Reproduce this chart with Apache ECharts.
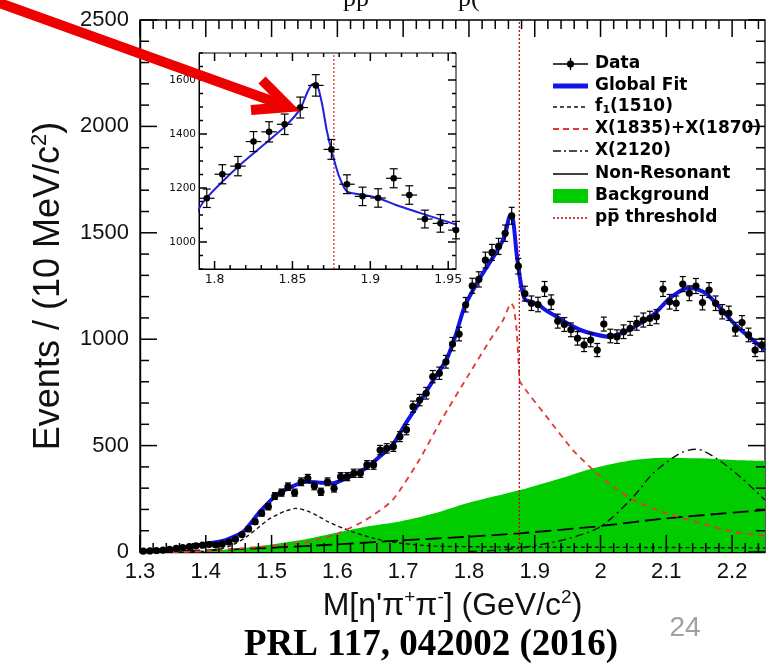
<!DOCTYPE html>
<html><head><meta charset="utf-8">
<script src="https://cdn.jsdelivr.net/npm/echarts@6/dist/echarts.min.js"></script>
<style>html,body{margin:0;padding:0;background:#fff}#c{width:779px;height:666px}</style>
</head><body><div id="c"></div>
<script>
// ---- histogram definition (10 MeV bins starting at 1.30 GeV) ----
const binLow = 1.30, binWidth = 0.01;
// events per bin
const events = [4,5,7,9,13,17,21,25,29,32,
  35,33,38,47,60,82,108,142,182,213,
  263,279,307,279,330,346,310,283,330,299,
  354,354,370,370,409,409,479,487,495,542,
  575,683,714,746,824,840,894,977,1024,1162,
  1251,1281,1372,1408,1436,1498,1580,1343,1214,1169,
  1163,1236,1174,1085,1069,1044,1004,973,996,949,
  1071,1015,1012,1035,1051,1075,1090,1098,1106,1236,
  1176,1169,1259,1216,1250,1172,1231,1169,1129,1122,
  1047,1078,1020,949,973];

// fit components [mass GeV, events]
const globalFit = [[1.30,2],[1.35,14],[1.39,33],[1.43,56],[1.457,95],[1.482,189],[1.508,268],[1.533,310],[1.553,330],[1.573,326],[1.593,323],[1.623,362],[1.643,393],[1.664,448],[1.684,503],[1.704,605],[1.724,699],[1.746,808],[1.766,905],[1.78,1020],[1.793,1150],[1.815,1279],[1.835,1377],[1.846,1432],[1.855,1493],[1.86,1560],[1.863,1585],[1.866,1579],[1.869,1512],[1.872,1414],[1.8756,1328],[1.88,1242],[1.885,1187],[1.895,1175],[1.905,1163],[1.916,1138],[1.935,1102],[1.955,1065],[1.977,1035],[2.013,1012],[2.043,1043],[2.08,1114],[2.105,1192],[2.13,1239],[2.14,1240],[2.16,1216],[2.18,1153],[2.205,1067],[2.25,949]];
const f1Curve = [[1.38,0],[1.40,5],[1.42,14],[1.44,32],[1.462,72],[1.48,115],[1.494,150],[1.51,178],[1.521,192],[1.537,205],[1.555,192],[1.57,170],[1.586,142],[1.616,103],[1.656,64],[1.697,41],[1.748,28],[1.80,25],[1.90,23],[2.00,22],[2.10,21],[2.25,19]];
const x1835Curve = [[1.35,0],[1.40,4],[1.462,19],[1.545,42],[1.595,80],[1.643,150],[1.684,244],[1.724,430],[1.758,620],[1.799,830],[1.832,996],[1.852,1090],[1.864,1169],[1.868,1150],[1.8725,1043],[1.8765,830],[1.8775,800],[1.918,636],[1.958,479],[1.989,385],[2.019,307],[2.05,244],[2.10,182],[2.151,135],[2.202,95],[2.25,75]];
const x2120Curve = [[1.80,3],[1.85,10],[1.90,30],[1.95,62],[2.00,119],[2.05,260],[2.08,370],[2.121,464],[2.146,483],[2.176,440],[2.212,354],[2.25,244]];
const nonResonant = [[1.30,0],[1.40,8],[1.50,20],[1.60,36],[1.70,55],[1.80,72],[1.8775,88],[2.00,122],[2.10,158],[2.25,197]];
const background = [[1.35,0],[1.40,5],[1.462,20],[1.545,56],[1.595,88],[1.643,119],[1.697,145],[1.748,182],[1.797,229],[1.8775,291],[1.948,354],[1.989,393],[2.05,432],[2.10,443],[2.151,440],[2.201,432],[2.25,428]];
const thresholdMass = 1.8766;

// axis ranges and tick values
const mainX = [1.30, 2.25], mainY = [0, 2500];
const insetX = [1.79, 1.955], insetY = [900, 1700];
const insetMajorX = [1.80, 1.85, 1.90, 1.95];
const insetMajorY = [1000, 1200, 1400, 1600];
const legendLabels = ['Data', 'Global Fit', '{b|f}{s|1}{b|(1510)}', 'X(1835)+X(1870)', 'X(2120)', 'Non-Resonant', 'Background', 'pp\u0305 threshold'];

// tick marks: [value, length in px]
function tickList(from, step, count, majorEvery, majorLen, minorLen, decimals) {
  const out = [];
  for (let k = 0; k <= count; k++) out.push([+(from + step * k).toFixed(decimals), k % majorEvery === 0 ? majorLen : minorLen]);
  return out;
}
const mainTicksX = tickList(1.30, 0.02, 47, 5, 17, 9, 2);
const mainTicksY = tickList(0, 100, 25, 5, 17, 9, 0);
const insetTicksX = tickList(1.80, 0.01, 15, 5, 8, 4, 2);
const insetTicksY = tickList(900, 50, 16, 4, 4, 4, 0).map(t => [t[0], insetMajorY.includes(t[0]) ? 8 : 4]);

// data points with Poisson errors
const dataPts = events.map((v, i) => [+(binLow + (i + 0.5) * binWidth).toFixed(3), v, Math.sqrt(v)]);
const insetPts = dataPts.filter(p => p[0] > insetX[0] && p[0] < 1.96);

function errRender(xmin, xmax, capHalf, radius, lw) {
  return (params, api) => {
    const x = api.value(0), v = api.value(1), e = api.value(2);
    const c = api.coord([x, v]);
    const t = api.coord([x, v + e]);
    const b = api.coord([x, v - e]);
    const l = api.coord([Math.max(x - binWidth / 2, xmin), v]);
    const r = api.coord([Math.min(x + binWidth / 2, xmax), v]);
    const st = {stroke: '#000', lineWidth: lw, fill: null};
    return {type: 'group', children: [
      {type: 'line', shape: {x1: c[0], y1: t[1], x2: c[0], y2: b[1]}, style: st},
      {type: 'line', shape: {x1: c[0] - capHalf, y1: t[1], x2: c[0] + capHalf, y2: t[1]}, style: st},
      {type: 'line', shape: {x1: c[0] - capHalf, y1: b[1], x2: c[0] + capHalf, y2: b[1]}, style: st},
      {type: 'line', shape: {x1: l[0], y1: c[1], x2: r[0], y2: c[1]}, style: st},
      {type: 'circle', shape: {cx: c[0], cy: c[1], r: radius}, style: {fill: '#000'}}
    ]};
  };
}

const sans = 'Liberation Sans';
function mkAxis(o) {
  const a = {
    type: 'value', gridIndex: o.grid, position: o.pos, min: o.min, max: o.max,
    axisLine: {show: true, onZero: false, lineStyle: {color: '#000', width: o.line}},
    axisTick: {show: false},
    axisLabel: Object.assign({show: true}, o.label),
    splitLine: {show: false}, minorTick: {show: false}, minorSplitLine: {show: false}
  };
  if (o.interval) a.interval = o.interval;
  if (o.custom) a.axisLabel.customValues = o.custom;
  if (o.name) Object.assign(a, o.name);
  return a;
}
const mainXLabel = {fontSize: 22, color: '#111', fontFamily: sans, margin: 9,
  formatter: v => (v > 2.21 ? '' : String(+v.toFixed(2)))};
const mainYLabel = {fontSize: 22, color: '#111', fontFamily: sans, margin: 11, formatter: v => String(v)};
const insetXLabel = {fontSize: 12.5, color: '#111', fontFamily: 'DejaVu Sans', margin: 4, formatter: v => String(+v.toFixed(2))};
const insetYLabel = {fontSize: 10.5, color: '#111', fontFamily: 'DejaVu Sans', margin: 3, formatter: v => String(v)};
const xName = {
  name: "M[η'π{s|+}π{s|-}] (GeV/c{s|2})", nameLocation: 'middle', nameGap: 34,
  nameTextStyle: {fontSize: 32, fontFamily: sans, color: '#111', lineHeight: 36,
    rich: {s: {fontSize: 19, fontFamily: sans, color: '#111', lineHeight: 20, verticalAlign: 'top'}}}
};
const yName = {
  name: 'Events / (10 MeV/c{s|2})', nameLocation: 'middle', nameGap: 70,
  nameTextStyle: {fontSize: 36, fontFamily: sans, color: '#111', lineHeight: 40,
    rich: {s: {fontSize: 22, fontFamily: sans, color: '#111', lineHeight: 22, verticalAlign: 'top'}}}
};

const xAxes = [
  mkAxis({grid: 0, pos: 'bottom', min: mainX[0], max: mainX[1], interval: 0.1, line: 1.4, label: mainXLabel, name: xName}),
  mkAxis({grid: 1, pos: 'bottom', min: insetX[0], max: insetX[1], custom: insetMajorX, line: 1, label: insetXLabel})
];
const yAxes = [
  mkAxis({grid: 0, pos: 'left', min: mainY[0], max: mainY[1], interval: 500, line: 1.4, label: mainYLabel, name: yName}),
  mkAxis({grid: 1, pos: 'left', min: insetY[0], max: insetY[1], custom: insetMajorY, line: 1, label: insetYLabel})
];

function curve(name, data, ls, extra) {
  return Object.assign({type: 'line', name, data, xAxisIndex: 0, yAxisIndex: 0, symbol: 'none',
    smooth: 0.3, lineStyle: ls, emphasis: {disabled: true}, silent: true}, extra || {});
}
const series = [
  curve('Background', background, {width: 0}, {areaStyle: {color: '#00cc00', opacity: 1}}),
  curve('Non-Resonant', nonResonant, {color: '#000', width: 1.8, type: [16, 6]}),
  curve('f1(1510)', f1Curve, {color: '#111', width: 1.4, type: [4, 3]}),
  curve('X(2120)', x2120Curve, {color: '#111', width: 1.4, type: [8, 4, 2, 4]}),
  curve('X(1835)+X(1870)', x1835Curve, {color: '#e03a32', width: 1.8, type: [6, 5]}, {smooth: 0.2}),
  curve('threshold', [[thresholdMass, mainY[0]], [thresholdMass, mainY[1]]], {color: '#cc0000', width: 1.2, type: [2, 2]}, {smooth: false}),
  curve('Global Fit', globalFit, {color: '#1414e6', width: 4}, {smooth: 0.2}),
  {type: 'custom', name: 'Data', data: dataPts, xAxisIndex: 0, yAxisIndex: 0, silent: true,
    renderItem: errRender(mainX[0], mainX[1], 3, 3.6, 1.2), z: 5},
  // inset
  curve('inset threshold', [[thresholdMass, insetY[0]], [thresholdMass, insetY[1]]], {color: '#cc0000', width: 1, type: [2, 2]}, {xAxisIndex: 1, yAxisIndex: 1, smooth: false}),
  curve('inset fit', globalFit, {color: '#2020e0', width: 2}, {xAxisIndex: 1, yAxisIndex: 1, smooth: 0.2}),
  {type: 'custom', name: 'inset data', data: insetPts, xAxisIndex: 1, yAxisIndex: 1, silent: true, clip: false,
    renderItem: errRender(insetX[0], insetX[1], 4, 3.3, 1.2), z: 5}
];

// legend drawn with graphic elements
const lgY = [64, 86, 107, 129, 151, 174, 196, 218];
const lx1 = 553, lx2 = 588, ltx = 595;
const lgFont = {fontFamily: 'DejaVu Sans', fontWeight: 'bold', fontSize: 17};
const graphics = [];
legendLabels.forEach((t, i) => {
  graphics.push({type: 'text', x: ltx, y: lgY[i], z: 50, style: Object.assign({
    text: t, fill: '#000', verticalAlign: 'middle', align: 'left',
    rich: {b: Object.assign({fill: '#000'}, lgFont), s: {fontFamily: 'DejaVu Sans', fontWeight: 'bold', fontSize: 11, verticalAlign: 'bottom', lineHeight: 12, padding: [8, 0, 0, 0]}}
  }, lgFont)});
});
function lgLine(i, stroke, w, dash) {
  graphics.push({type: 'line', z: 50, shape: {x1: lx1, y1: lgY[i], x2: lx2, y2: lgY[i]},
    style: {stroke, lineWidth: w, lineDash: dash || null}});
}
lgLine(0, '#000', 1.3);
graphics.push({type: 'line', z: 50, shape: {x1: (lx1 + lx2) / 2, y1: lgY[0] - 6, x2: (lx1 + lx2) / 2, y2: lgY[0] + 6}, style: {stroke: '#000', lineWidth: 1.3}});
graphics.push({type: 'circle', z: 50, shape: {cx: (lx1 + lx2) / 2, cy: lgY[0], r: 3.6}, style: {fill: '#000'}});
lgLine(1, '#1414e6', 5);
lgLine(2, '#111', 1.4, [4, 3]);
lgLine(3, '#e03a32', 1.8, [6, 4]);
lgLine(4, '#111', 1.4, [8, 3, 2, 3]);
lgLine(5, '#000', 1.6);
graphics.push({type: 'rect', z: 50, shape: {x: lx1, y: lgY[6] - 7, width: lx2 - lx1, height: 14}, style: {fill: '#00cc00'}});
lgLine(7, '#cc0000', 1.5, [2, 2]);

// texts around the chart
graphics.push({type: 'text', z: 50, x: 343, y: -14, style: {text: 'pp', fontFamily: 'Liberation Serif', fontSize: 26, fill: '#111', verticalAlign: 'top'}});
graphics.push({type: 'text', z: 50, x: 458, y: -14, style: {text: 'p(', fontFamily: 'Liberation Serif', fontSize: 26, fill: '#111', verticalAlign: 'top'}});
graphics.push({type: 'text', z: 50, x: 685, y: 628, style: {text: '24', fontFamily: sans, fontSize: 28, fill: '#a0a0a0', align: 'center', verticalAlign: 'middle'}});
graphics.push({type: 'text', z: 50, x: 431, y: 645, style: {text: 'PRL 117, 042002 (2016)', fontFamily: 'Liberation Serif', fontWeight: 'bold', fontSize: 37, fill: '#000', align: 'center', verticalAlign: 'middle'}});

const chart = echarts.init(document.getElementById('c'), null, {renderer: 'canvas'});
chart.setOption({
  animation: false,
  backgroundColor: '#fff',
  grid: [
    {left: 140, top: 20, width: 625, height: 532, outerBoundsMode: 'none', containLabel: false,
      show: true, backgroundColor: 'transparent', borderColor: '#000', borderWidth: 1.3},
    {left: 199, top: 53, width: 257, height: 216, outerBoundsMode: 'none', containLabel: false,
      show: true, backgroundColor: '#fff', borderColor: '#000', borderWidth: 1}
  ],
  xAxis: xAxes,
  yAxis: yAxes,
  series,
  graphic: graphics
});

// inside tick marks on all four frame sides, positioned through the axis scales
const tickEls = [];
function tick(x1, y1, x2, y2) {
  tickEls.push({type: 'line', z: 55, silent: true, shape: {x1, y1, x2, y2}, style: {stroke: '#000', lineWidth: 1.5}});
}
function addTicks(gridIndex, xr, yr, ticksX, ticksY) {
  ticksX.forEach(([v, len]) => {
    const b = chart.convertToPixel({gridIndex}, [v, yr[0]]);
    const t = chart.convertToPixel({gridIndex}, [v, yr[1]]);
    if (!b || !t) return;
    tick(b[0], b[1], b[0], b[1] - len);
    tick(t[0], t[1], t[0], t[1] + len);
  });
  ticksY.forEach(([v, len]) => {
    const l = chart.convertToPixel({gridIndex}, [xr[0], v]);
    const r = chart.convertToPixel({gridIndex}, [xr[1], v]);
    if (!l || !r) return;
    tick(l[0], l[1], l[0] + len, l[1]);
    tick(r[0], r[1], r[0] - len, r[1]);
  });
}
addTicks(0, mainX, mainY, mainTicksX, mainTicksY);
addTicks(1, insetX, insetY, insetTicksX, insetTicksY);

// red arrow on top of everything
const arrow = [
  {type: 'line', z: 60, shape: {x1: -6, y1: 1, x2: 283, y2: 105}, style: {stroke: '#ee0000', lineWidth: 10, lineCap: 'butt'}},
  {type: 'polyline', z: 60, shape: {points: [[262, 80], [289, 107], [251, 110]]}, style: {stroke: '#ee0000', lineWidth: 10, fill: null, lineJoin: 'miter', lineCap: 'butt'}}
];
chart.setOption({graphic: graphics.concat(tickEls, arrow)});
</script></body></html>
